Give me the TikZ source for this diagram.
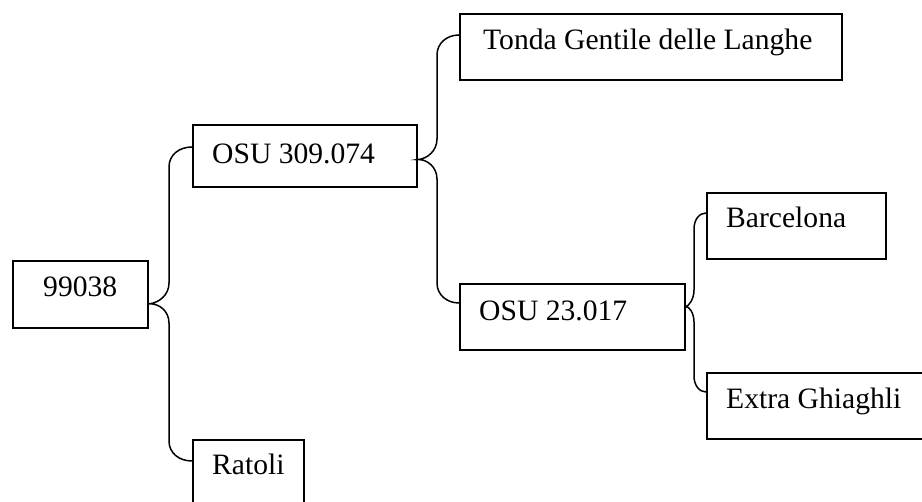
\documentclass[tikz,border=0pt]{standalone}
\usepackage{fontspec}
\setmainfont{Liberation Serif}
\usetikzlibrary{calc}
\begin{document}
\begin{tikzpicture}[x=1pt,y=-1pt,
  box/.style={draw, line width=1.6pt, anchor=north west, inner sep=0pt},
  lbl/.style={anchor=base west, inner sep=0pt, font=\fontsize{29.6}{35}\selectfont},
  brace/.style={line width=1.5pt}]
\useasboundingbox (0,0) rectangle (922,502);
\clip (0,0) rectangle (922,502);
% boxes
\node[box, minimum width=135pt, minimum height=67pt] (b99) at (12,260) {};
\node[box, minimum width=224pt, minimum height=62pt] (b309) at (192,124) {};
\node[box, minimum width=111pt, minimum height=70pt] (brat) at (192,439) {};
\node[box, minimum width=382pt, minimum height=66pt] (bton) at (459,13) {};
\node[box, minimum width=225pt, minimum height=66pt] (b23) at (459,283) {};
\node[box, minimum width=179pt, minimum height=66pt] (bbar) at (706,192) {};
\node[box, minimum width=222pt, minimum height=66pt] (bext) at (706,372) {};
% labels
\node[lbl] (t99) at (43,297) {99038};
\node[lbl] (t309) at (212,164) {OSU 309.074};
\node[lbl] (trat) at (212,475) {Ratoli};
\node[lbl] (tton) at (483,50) {Tonda Gentile delle Langhe};
\node[lbl] (t23) at (479,321) {OSU 23.017};
\node[lbl] (tbar) at (726,228) {Barcelona};
\node[lbl] (text) at (726,409) {Extra Ghiaghli};
% brace anchor points
\coordinate (p99) at ($(b99.north east)!0.64!(b99.south east)$);
\coordinate (p309) at ($(b309.north east)!0.56!(b309.south east)$);
\coordinate (p23) at ($(b23.north east)!0.35!(b23.south east)$);
\coordinate (e309) at ([yshift=-23pt]b309.north west);
\coordinate (erat) at ([yshift=-22pt]brat.north west);
\coordinate (eton) at ([yshift=-22pt]bton.north west);
\coordinate (e23) at ([yshift=-20pt]b23.north west);
\coordinate (ebar) at ([yshift=-21pt]bbar.north west);
\coordinate (eext) at ([yshift=-20pt]bext.north west);
% braces
\draw[brace] (e309) .. controls (179,147) and (169,155) .. (169,167) -- (169,283) .. controls (169,295) and (159,303) .. (p99)
  .. controls (159,303) and (169,311) .. (169,323) -- (169,441) .. controls (169,453) and (179,461) .. (erat);
\draw[brace] (eton) .. controls (447,35) and (437,43) .. (437,55) -- (437,139) .. controls (437,151) and (427,159) .. (p309)
  .. controls (427,159) and (437,167) .. (437,179) -- (437,283) .. controls (437,295) and (447,303) .. (e23);
\draw[brace] (ebar) .. controls (699,213) and (694,220) .. (694,229) -- (694,290) .. controls (694,299) and (689,306) .. (p23)
  .. controls (689,306) and (694,313) .. (694,322) -- (694,376) .. controls (694,385) and (699,392) .. (eext);
\end{tikzpicture}
\end{document}
